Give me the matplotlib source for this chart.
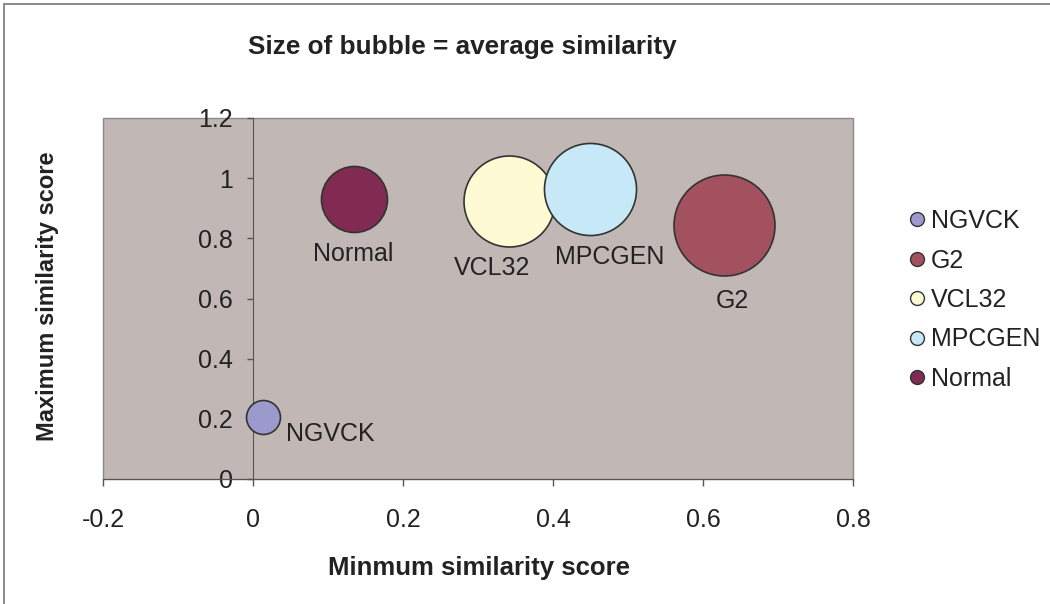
import numpy as np
import matplotlib.pyplot as plt
from matplotlib.lines import Line2D
from matplotlib.patches import Rectangle

plt.rcParams['font.family'] = ['Liberation Sans', 'DejaVu Sans']

# ============================================================
# DATA
# ============================================================
names = ["NGVCK", "G2", "VCL32", "MPCGEN", "Normal"]
min_score = [0.013, 0.628, 0.341, 0.449, 0.135]
max_score = [0.206, 0.844, 0.924, 0.964, 0.931]
avg_score = [0.07, 0.62, 0.503, 0.515, 0.265]

colors = ["#9C99CD", "#A3505F", "#FEFAD4", "#C6E8F7", "#812A52"]
# label offsets (points) from bubble centre
label_offsets = [(49, -12), (6, -55), (-12, -48), (14, -49), (-1, -40)]

x_ticks = [-0.2, 0, 0.2, 0.4, 0.6, 0.8]
y_ticks = [0, 0.2, 0.4, 0.6, 0.8, 1, 1.2]

TXT = "#222222"
FS = 18

# ============================================================
# PLOT
# ============================================================
fig = plt.figure(figsize=(10.5, 6.04), dpi=100)
ax = fig.add_axes([103 / 1050, 125 / 604, 750 / 1050, 361 / 604])

ax.set_facecolor("#C1B7B5")
ax.patch.set_edgecolor("#8a8a8a")
ax.patch.set_linewidth(1.0)

max_d_pt = 101 * 0.72
sizes = [a / max(avg_score) * max_d_pt ** 2 for a in avg_score]

for i in range(len(names)):
    ax.scatter(min_score[i], max_score[i], s=sizes[i], color=colors[i],
               edgecolors="#333333", linewidths=1.2, zorder=3)
    ax.annotate(names[i], (min_score[i], max_score[i]),
                xytext=label_offsets[i], textcoords="offset points",
                ha="center", va="center", fontsize=FS, color=TXT, zorder=4)

ax.set_xlim(-0.2, 0.8)
ax.set_ylim(0, 1.2)
ax.set_xticks(x_ticks)
ax.set_yticks(y_ticks)
ax.set_xticklabels(["-0.2", "0", "0.2", "0.4", "0.6", "0.8"])
ax.set_yticklabels(["0", "0.2", "0.4", "0.6", "0.8", "1", "1.2"])

for s in ["top", "right"]:
    ax.spines[s].set_visible(False)
ax.spines["left"].set_position(("data", 0))
ax.spines["left"].set_color("#555555")
ax.spines["bottom"].set_color("#555555")
ax.spines["left"].set_zorder(2)

ax.tick_params(axis="x", direction="out", length=5, width=1, color="#555555",
               pad=16, labelsize=FS, labelcolor=TXT)
ax.tick_params(axis="y", direction="out", length=4.5, width=1, color="#555555",
               pad=10, labelsize=FS, labelcolor=TXT)

fig.text(462 / 1050, 1 - 47 / 604, "Size of bubble = average similarity",
         ha="center", va="center", fontsize=18.8, fontweight="bold", color=TXT)
fig.text(479 / 1050, 1 - 568 / 604, "Minmum similarity score",
         ha="center", va="center", fontsize=18.5, fontweight="bold", color=TXT)
fig.text(48 / 1050, 1 - 296 / 604, "Maximum similarity score", rotation=90,
         ha="center", va="center", fontsize=17, fontweight="bold", color=TXT)

handles = [Line2D([0], [0], marker="o", linestyle="", markersize=10,
                  markerfacecolor=c, markeredgecolor="#333333", markeredgewidth=1.0)
           for c in colors]
leg = fig.legend(handles, names, loc="center left",
                 bbox_to_anchor=(897 / 1050, 1 - 300 / 604), frameon=False,
                 fontsize=FS, handlelength=0.6, handletextpad=0.25,
                 labelspacing=0.62, borderpad=0)
for t in leg.get_texts():
    t.set_color(TXT)

# outer chart border
fig.patches.append(Rectangle((4 / 1050, -0.1), 1.2, 1.1 - 4 / 604,
                             transform=fig.transFigure, fill=False,
                             edgecolor="#777777", linewidth=1.2))

fig.savefig("out.png", dpi=100)
